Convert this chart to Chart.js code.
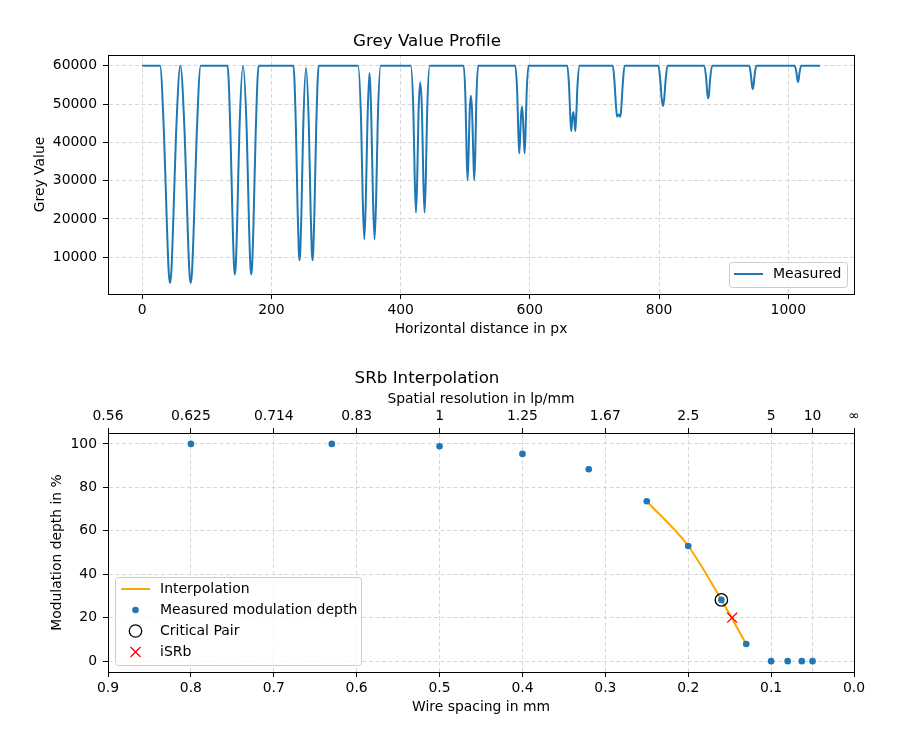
<!DOCTYPE html>
<html>
<head>
<meta charset="utf-8">
<title>Grey Value Profile / SRb Interpolation</title>
<script src="https://cdn.jsdelivr.net/npm/chart.js@4.4.1/dist/chart.umd.min.js"></script>
<style>
  html, body { margin: 0; padding: 0; background: #fff; }
  #wrap { position: relative; width: 900px; height: 750px; }
  canvas { position: absolute; left: 0; }
  #profile { top: 0; }
  #srb { top: 345px; }
</style>
</head>
<body>
<div id="wrap">
  <canvas id="profile" width="900" height="345"></canvas>
  <canvas id="srb" width="900" height="405"></canvas>
</div>
<script>
// --- grey value profile (one line per wire pair) ---
const profileX = [
  0, 27.5, 33.7, 38.35, 41, 43, 45, 47.65, 52.3, 59, 65.7, 70.35, 73, 75, 77, 79.65, 84.3, 90.5,
  132, 136.4, 139.9, 141.9, 143.4, 144.9, 146.9, 150.4, 156, 161.7, 165.2, 167.2, 168.7, 170.2, 172.2, 175.7, 180.2,
  234, 237.8, 240.6, 242.3, 243.5, 244.7, 246.4, 249.2, 253.5, 257.9, 260.7, 262.4, 263.6, 264.8, 266.5, 269.3, 273.2,
  334, 338.7, 341.2, 343.7, 346.2, 348.7, 351.6, 354.6, 357.1, 359.6, 362.1, 364.6, 369,
  415.5, 419.7, 421.7, 423.7, 425.7, 427.7, 430.3, 433, 435, 437, 439, 441, 445,
  497.6, 500.4, 502, 503.6, 505.2, 506.8, 508.7, 510.6, 512.3, 513.9, 515.5, 517.1, 519.9,
  577.4, 580.4, 582.1, 583.6, 585, 586.3, 587.7, 589.1, 590.4, 591.8, 593.3, 595, 598,
  658, 660.7, 662.5, 664, 665.6, 667.2, 668.8, 670.3, 671.8, 673.6, 677,
  728.5, 731.3, 733.3, 735, 737.5, 740, 741.7, 743.7, 746.5,
  799, 802, 804, 806, 808, 810, 813,
  870, 873, 874.5, 876, 877.5, 879, 882,
  939.5, 942.3, 943.7, 945, 946.3, 947.7, 950.5,
  1010, 1012.8, 1014, 1015, 1016, 1017.2, 1020,
  1049
];
const profileY = [
  60000, 60000, 42000, 17500, 6100, 3250, 6100, 17500, 42000, 60000, 42000, 17500, 6100, 3250, 6100, 17500, 42000, 60000,
  60000, 43100, 18900, 8300, 5500, 8300, 18900, 43100, 60000, 43100, 18900, 8300, 5500, 8300, 18900, 43100, 60000,
  60000, 44250, 21650, 11700, 9200, 11700, 21650, 44250, 59500, 44250, 21650, 11700, 9200, 11700, 21650, 44250, 60000,
  60000, 46000, 25800, 14700, 25800, 46000, 58100, 46000, 25800, 14700, 25800, 46000, 60000,
  60000, 48100, 31100, 21700, 31100, 48100, 55700, 48100, 31100, 21700, 31100, 48100, 60000,
  60000, 50750, 37450, 30150, 37450, 48000, 52200, 48000, 37450, 30150, 37450, 50750, 60000,
  60000, 53000, 42700, 37150, 42000, 47000, 49350, 47000, 42000, 37150, 42700, 53000, 60000,
  60000, 54500, 47000, 42900, 46000, 47900, 46000, 42900, 47000, 54500, 60000,
  60000, 55000, 49500, 46700, 47300, 46700, 49500, 55000, 60000,
  60000, 56000, 51500, 49500, 51500, 56000, 60000,
  60000, 56500, 53000, 51500, 53000, 56500, 60000,
  60000, 57300, 55000, 53900, 55000, 57300, 60000,
  60000, 58000, 56400, 55700, 56400, 58000, 60000,
  60000
];
const profileTicksX = [0, 200, 400, 600, 800, 1000];
const profileTicksY = [10000, 20000, 30000, 40000, 50000, 60000];

// --- SRb interpolation ---
const wireSpacing = [0.8, 0.63, 0.5, 0.4, 0.32, 0.25, 0.2, 0.16, 0.13, 0.1, 0.08, 0.063, 0.05];
const modulationDepth = [100, 100, 98.9, 95.4, 88.3, 73.6, 53, 28.2, 7.9, 0, 0, 0, 0];
const interpSpacing = [0.25, 0.2, 0.16, 0.13];
const interpDepth = [73.6, 53, 28.2, 7.9];
const criticalSpacing = [0.16];
const criticalDepth = [28.2];
const isrbSpacing = [0.147];
const isrbDepth = [20];
const spacingTicks = [0.9, 0.8, 0.7, 0.6, 0.5, 0.4, 0.3, 0.2, 0.1, 0.0];
const resolutionTicks = [0.9, 0.8, 0.7, 0.6, 0.5, 0.4, 0.3, 0.2, 0.1, 0.05, 0.0];
const resolutionLabels = ["0.56", "0.625", "0.714", "0.83", "1", "1.25", "1.67", "2.5", "5", "10", "∞"];
const depthTicks = [0, 20, 40, 60, 80, 100];

const BLUE = "#1f77b4";
const ORANGE = "#ffa500";
const GRID = "#d7d7d7";

Chart.defaults.font.family = "'DejaVu Sans', sans-serif";
Chart.defaults.font.size = 13.9;
Chart.defaults.color = "#000";

function pts(xs, ys) {
    return xs.map((x, i) => ({ x: x, y: ys[i] }));
}

function fixTicks(values) {
    return axis => { axis.ticks = values.map(v => ({ value: v })); };
}

const gridOpts = { color: GRID, lineWidth: 1, tickLength: 5, tickColor: "#000", tickWidth: 1, tickBorderDash: [] };
const borderOpts = { color: "#000", width: 1, dash: [4, 2.5] };

// legend glyphs, drawn once into small canvases
function glyph(paint) {
    const c = document.createElement("canvas");
    c.width = 32;
    c.height = 14;
    paint(c.getContext("2d"), 14.5, 7);
    return c;
}
const lineGlyph = color => glyph((g, cx, cy) => {
    g.strokeStyle = color; g.lineWidth = 2;
    g.beginPath(); g.moveTo(0, cy); g.lineTo(29, cy); g.stroke();
});
const dotGlyph = glyph((g, cx, cy) => {
    g.fillStyle = BLUE; g.beginPath(); g.arc(cx, cy, 3.3, 0, Math.PI * 2); g.fill();
});
const ringGlyph = glyph((g, cx, cy) => {
    g.strokeStyle = "#000"; g.lineWidth = 1.3; g.beginPath(); g.arc(cx, cy, 6.2, 0, Math.PI * 2); g.stroke();
});
const crossGlyph = glyph((g, cx, cy) => {
    g.strokeStyle = "red"; g.lineWidth = 1.3; g.beginPath();
    g.moveTo(cx - 5, cy - 5); g.lineTo(cx + 5, cy + 5);
    g.moveTo(cx - 5, cy + 5); g.lineTo(cx + 5, cy - 5);
    g.stroke();
});

// box around the plot area (matplotlib spines)
const framePlugin = {
    id: "frame",
    afterDraw(chart) {
        const a = chart.chartArea, ctx = chart.ctx;
        const l = Math.round(a.left), t = Math.round(a.top), r = Math.round(a.right), b = Math.round(a.bottom);
        ctx.save();
        ctx.strokeStyle = "#000";
        ctx.lineWidth = 1;
        ctx.strokeRect(l + 0.5, t + 0.5, r - l, b - t);
        ctx.restore();
    }
};

// moves the legend inside the plot and gives it a rounded frame
const placedLegend = {
    id: "placedLegend",
    afterLayout(chart, args, opts) {
        const lg = chart.legend;
        if (!lg) return;
        const pad = lg.options.labels.padding;
        lg.left = opts.itemX - pad;
        lg.top = opts.rowY - 7 - pad;
        lg.right = chart.width;
        lg.bottom = chart.height;
        if (!lg._framed) {
            const draw = lg.draw;
            const f = opts.frame;
            lg.draw = function (area) {
                const ctx = chart.ctx;
                ctx.save();
                ctx.beginPath();
                if (ctx.roundRect) ctx.roundRect(f.x + 0.5, f.y + 0.5, f.w, f.h, 3);
                else ctx.rect(f.x + 0.5, f.y + 0.5, f.w, f.h);
                ctx.fillStyle = "rgba(255,255,255,0.8)";
                ctx.fill();
                ctx.strokeStyle = "#cccccc";
                ctx.lineWidth = 1;
                ctx.stroke();
                ctx.restore();
                draw.call(this, area);
            };
            lg._framed = true;
        }
    }
};

function legendLabels(glyphs) {
    return {
        usePointStyle: true,
        pointStyleWidth: 32,
        padding: 7,
        font: { size: 14 },
        generateLabels: chart => chart.data.datasets.map((ds, i) => ({
            text: ds.label,
            pointStyle: glyphs[i],
            fillStyle: "#000",
            strokeStyle: "#000",
            lineWidth: 0,
            hidden: false,
            datasetIndex: i,
            fontColor: "#000"
        }))
    };
}

// Grey value profile
new Chart(document.getElementById("profile"), {
    type: "line",
    data: {
        datasets: [{
            label: "Measured",
            data: pts(profileX, profileY),
            borderColor: BLUE,
            borderWidth: 2,
            pointRadius: 0,
            fill: false,
            cubicInterpolationMode: "monotone"
        }]
    },
    options: {
        responsive: false,
        animation: false,
        devicePixelRatio: 1,
        events: [],
        layout: { padding: { left: 0, right: 46, top: 0, bottom: 0 } },
        scales: {
            x: {
                type: "linear",
                min: -53,
                max: 1101.7,
                afterBuildTicks: fixTicks(profileTicksX),
                afterFit: s => { s.height = 51; },
                ticks: { padding: 3, maxRotation: 0, autoSkip: false, callback: v => String(v) },
                grid: gridOpts,
                border: borderOpts,
                title: { display: true, text: "Horizontal distance in px", padding: { top: 0, bottom: 7.7 } }
            },
            y: {
                min: 420,
                max: 62800,
                afterBuildTicks: fixTicks(profileTicksY),
                afterFit: s => { s.width = 108; },
                ticks: { padding: 6, autoSkip: false, callback: v => String(v) },
                grid: gridOpts,
                border: borderOpts,
                title: { display: true, text: "Grey Value", padding: { top: 32.2, bottom: 0 } }
            }
        },
        plugins: {
            title: {
                display: true,
                text: "Grey Value Profile",
                color: "#000",
                font: { size: 16.7, weight: "normal" },
                padding: { top: 32, bottom: 3 }
            },
            legend: {
                position: "chartArea",
                align: "start",
                labels: legendLabels([lineGlyph(BLUE)])
            },
            placedLegend: { itemX: 734, rowY: 274, frame: { x: 729, y: 262, w: 118, h: 25 } },
            tooltip: { enabled: false }
        }
    },
    plugins: [framePlugin, placedLegend]
});

// SRb interpolation
new Chart(document.getElementById("srb"), {
    type: "scatter",
    data: {
        datasets: [
            {
                label: "Interpolation",
                data: pts(interpSpacing, interpDepth),
                showLine: true,
                borderColor: ORANGE,
                borderWidth: 2,
                pointRadius: 0,
                cubicInterpolationMode: "monotone",
                order: 4
            },
            {
                label: "Measured modulation depth",
                data: pts(wireSpacing, modulationDepth),
                backgroundColor: BLUE,
                borderWidth: 0,
                pointRadius: 3.3,
                order: 3
            },
            {
                label: "Critical Pair",
                data: pts(criticalSpacing, criticalDepth),
                backgroundColor: "rgba(0,0,0,0)",
                borderColor: "#000",
                borderWidth: 1.3,
                pointRadius: 6.2,
                order: 2
            },
            {
                label: "iSRb",
                data: pts(isrbSpacing, isrbDepth),
                pointStyle: "crossRot",
                borderColor: "red",
                borderWidth: 1.3,
                pointRadius: 7,
                order: 1
            }
        ]
    },
    options: {
        responsive: false,
        animation: false,
        devicePixelRatio: 1,
        events: [],
        layout: { padding: { left: 0, right: 46, top: 0, bottom: 0 } },
        scales: {
            x: {
                type: "linear",
                position: "bottom",
                reverse: true,
                min: 0,
                max: 0.9,
                afterBuildTicks: fixTicks(spacingTicks),
                afterFit: s => { s.height = 78; },
                ticks: { padding: 3, maxRotation: 0, autoSkip: false, callback: v => v.toFixed(1) },
                grid: Object.assign({}, gridOpts, { drawOnChartArea: false }),
                border: borderOpts,
                title: { display: true, text: "Wire spacing in mm", padding: { top: 0, bottom: 34.7 } }
            },
            x2: {
                type: "linear",
                position: "top",
                reverse: true,
                min: 0,
                max: 0.9,
                afterBuildTicks: fixTicks(resolutionTicks),
                afterFit: s => { s.height = 44; },
                ticks: { padding: 3, maxRotation: 0, autoSkip: false, callback: (v, i) => resolutionLabels[i] },
                grid: gridOpts,
                border: borderOpts,
                title: { display: true, text: "Spatial resolution in lp/mm", padding: { top: 1.7, bottom: 0 } }
            },
            y: {
                min: -5,
                max: 105,
                afterBuildTicks: fixTicks(depthTicks),
                afterFit: s => { s.width = 108; },
                ticks: { padding: 6, autoSkip: false, callback: v => String(v) },
                grid: gridOpts,
                border: borderOpts,
                title: { display: true, text: "Modulation depth in %", padding: { top: 49, bottom: 0 } }
            }
        },
        plugins: {
            title: {
                display: true,
                text: "SRb Interpolation",
                color: "#000",
                font: { size: 16.7, weight: "normal" },
                padding: { top: 24, bottom: 0 }
            },
            legend: {
                position: "chartArea",
                align: "start",
                labels: legendLabels([lineGlyph(ORANGE), dotGlyph, ringGlyph, crossGlyph])
            },
            placedLegend: { itemX: 121, rowY: 244, frame: { x: 115, y: 232, w: 246, h: 88 } },
            tooltip: { enabled: false }
        }
    },
    plugins: [framePlugin, placedLegend]
});
</script>
</body>
</html>
